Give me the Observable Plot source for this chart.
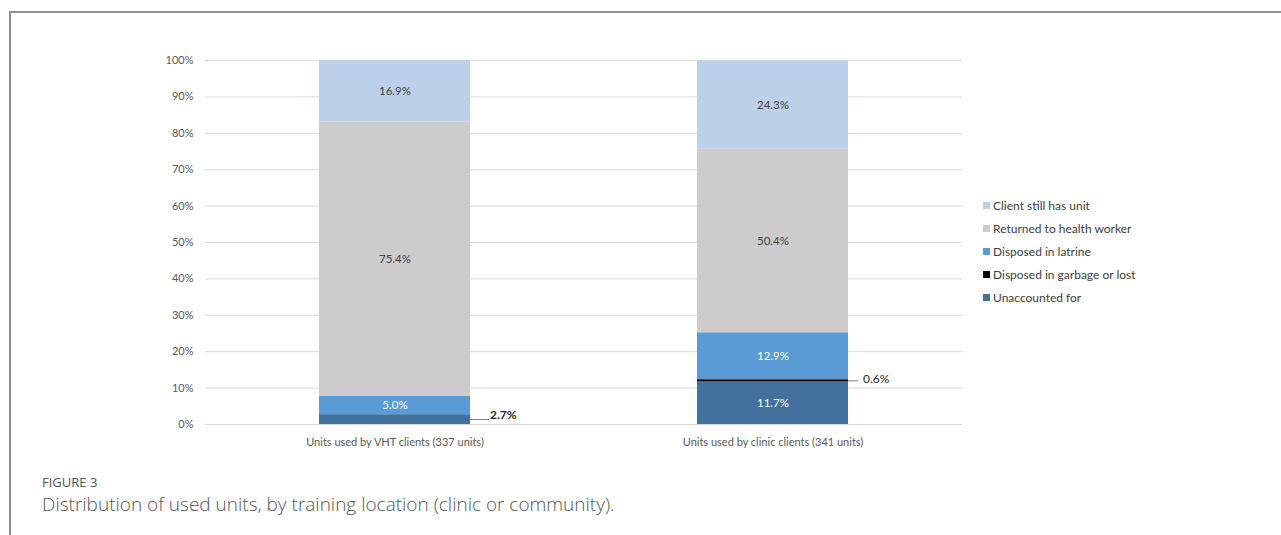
<!DOCTYPE html>
<html>
<head>
<meta charset="utf-8">
<script src="https://cdn.jsdelivr.net/npm/d3@7"></script>
<script src="https://cdn.jsdelivr.net/npm/@observablehq/plot@0.6"></script>
<style>
  html, body { margin: 0; padding: 0; background: #fff; }
  body { width: 1281px; height: 535px; position: relative; overflow: hidden; font-family: Lato, "Open Sans", sans-serif; }
  #frame { position: absolute; left: 9px; top: 11px; width: 1272px; height: 524px; border-top: 2px solid #8e8e8e; border-left: 2px solid #8e8e8e; box-sizing: border-box; }
  #chart { position: absolute; left: 0; top: 0; }
  #legend { position: absolute; left: 983px; top: 194px; font-family: Lato, sans-serif; font-size: 12px; color: #404040; }
  #legend .item { height: 23px; display: flex; align-items: center; white-space: nowrap; }
  #legend .sw { width: 7px; height: 7px; margin-right: 3px; }
  #fig { position: absolute; left: 42px; top: 473px; font-family: "Open Sans", sans-serif; font-size: 13px; color: #555; }
  #cap { position: absolute; left: 42px; top: 491px; font-family: "Open Sans", sans-serif; font-weight: 300; font-size: 19px; color: #555; }
</style>
</head>
<body>
<div id="frame"></div>
<div id="chart"></div>
<div id="legend"></div>
<div id="fig">FIGURE 3</div>
<div id="cap">Distribution of used units, by training location (clinic or community).</div>
<script>
const categories = ["Units used by VHT clients (337 units)", "Units used by clinic clients (341 units)"];
const series = ["Unaccounted for", "Disposed in garbage or lost", "Disposed in latrine", "Returned to health worker", "Client still has unit"];
const vhtValues = [2.7, 0, 5.0, 75.4, 16.9];
const clinicValues = [11.7, 0.6, 12.9, 50.4, 24.3];
const seriesColors = ["#41719c", "#000000", "#5b9bd5", "#cdcbcb", "#bdd0e9"];
const whiteLabelSeries = ["Unaccounted for", "Disposed in latrine"];
const yTicks = [0, 10, 20, 30, 40, 50, 60, 70, 80, 90, 100];

const valuesByCategory = [vhtValues, clinicValues];
const data = [];
categories.forEach((c, i) => {
  series.forEach((s, j) => data.push({category: c, series: s, value: valuesByCategory[i][j]}));
});

const fmt = v => v.toFixed(1) + "%";
const isInside = d => d.value >= 3;
const isOutside = d => d.value > 0 && d.value < 3;

const W = 1281, H = 460;
const stackOpts = extra => Plot.stackY({x: "category", y: "value", z: "series", ...extra});

const marks = [
  Plot.ruleY(yTicks, {stroke: "#d9d9d9", strokeWidth: 1}),
  Plot.barY(data, stackOpts({fill: "series"})),
  Plot.text(data, stackOpts({
    text: d => isInside(d) && !whiteLabelSeries.includes(d.series) ? fmt(d.value) : "",
    fill: "#404040", fontSize: 11.5
  })),
  Plot.text(data, stackOpts({
    text: d => isInside(d) && whiteLabelSeries.includes(d.series) ? fmt(d.value) : "",
    fill: "#ffffff", fontSize: 11.5
  }))
];

// leader-line label styling per category (first: VHT, second: clinic)
const outsideStyle = [
  {insetRight: -19, dx: 95, dy: -4, fontWeight: "bold"},
  {insetRight: -10, dx: 90, dy: -2, fontWeight: "normal"}
];
categories.forEach((c, i) => {
  const sub = data.filter(d => d.category === c);
  if (!sub.some(isOutside)) return;
  const st = outsideStyle[i];
  marks.push(Plot.tickY(sub, stackOpts({
    stroke: d => isOutside(d) ? "#7f7f7f" : "none",
    insetLeft: 151, insetRight: st.insetRight, strokeWidth: 1
  })));
  marks.push(Plot.text(sub, stackOpts({
    text: d => isOutside(d) ? fmt(d.value) : "",
    fill: "#262626", fontSize: 12, fontWeight: st.fontWeight,
    textAnchor: "start", dx: st.dx, dy: st.dy
  })));
});

const chart = Plot.plot({
  width: W, height: H,
  marginTop: 60, marginBottom: 36, marginLeft: 205, marginRight: 319,
  style: {fontFamily: "Lato, sans-serif", fontSize: "11px", color: "#595959", background: "transparent"},
  x: {domain: categories, paddingInner: 0.6, paddingOuter: 0.3, label: null, tickSize: 0, tickPadding: 14},
  y: {domain: [0, 100], ticks: yTicks, tickFormat: d => d + "%", label: null, tickSize: 0, tickPadding: 12},
  color: {domain: series, range: seriesColors},
  marks
});
document.getElementById("chart").appendChild(chart);

const legend = document.getElementById("legend");
series.slice().reverse().forEach(s => {
  const item = document.createElement("div");
  item.className = "item";
  const sw = document.createElement("span");
  sw.className = "sw";
  sw.style.background = seriesColors[series.indexOf(s)];
  const t = document.createElement("span");
  t.textContent = s;
  item.appendChild(sw); item.appendChild(t);
  legend.appendChild(item);
});
</script>
</body>
</html>
